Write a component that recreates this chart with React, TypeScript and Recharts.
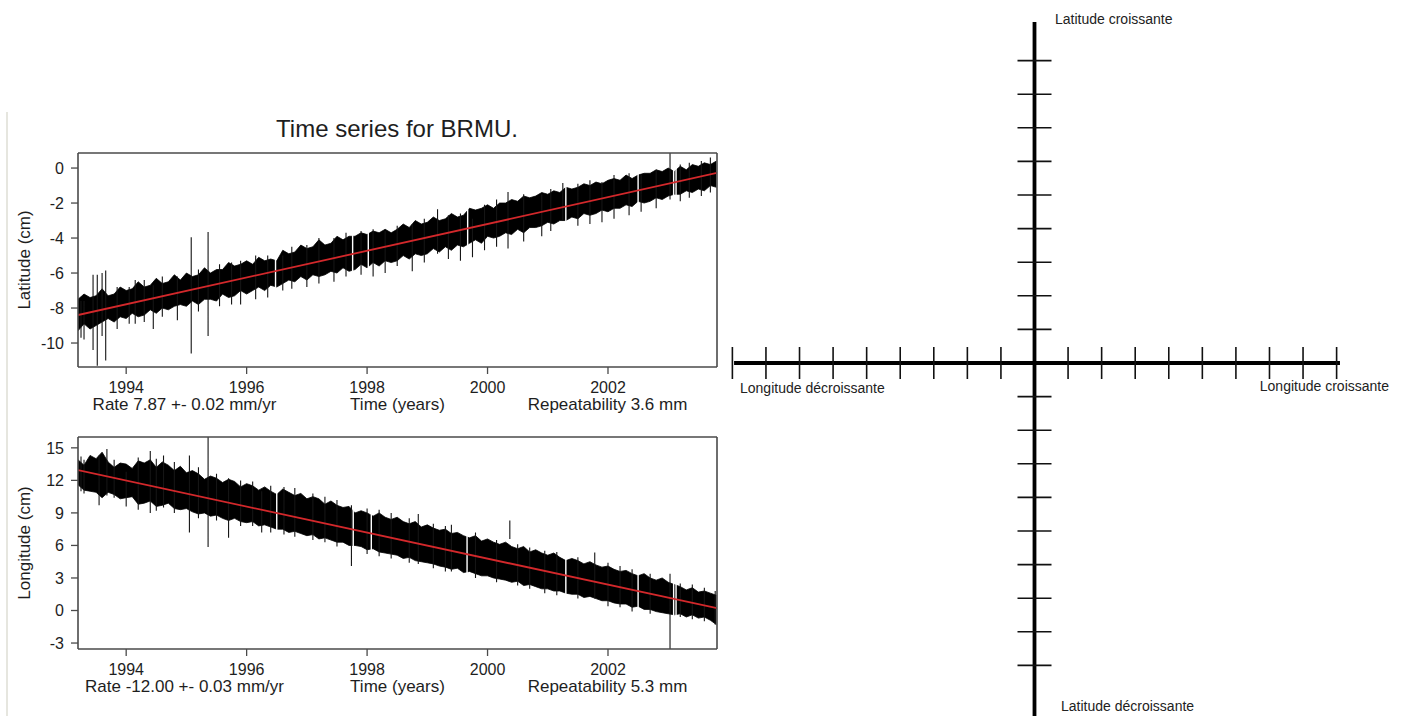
import React from "react";
import { ComposedChart, Area, Line, Scatter, XAxis, YAxis } from "recharts";

const FONT = '"Liberation Sans", Arial, Helvetica, sans-serif';
const INK = "#1e1e1e";
const FRAME = "#4a4a4a";
const TREND = "#d3282b";

// ---- left: BRMU time series ----
const X_DOMAIN = [1993.2, 2003.81];
const yearTicks = [1994, 1996, 1998, 2000, 2002];

// sampling times of the envelope (decimal years)
const years = [
  1993.2, 1993.3, 1993.4, 1993.5, 1993.6, 1993.7, 1993.8, 1993.9,
  1994.0, 1994.1, 1994.2, 1994.3, 1994.4, 1994.5, 1994.6, 1994.7, 1994.8, 1994.9,
  1995.0, 1995.1, 1995.2, 1995.3, 1995.4, 1995.5, 1995.6, 1995.7, 1995.8, 1995.9,
  1996.0, 1996.1, 1996.2, 1996.3, 1996.4, 1996.5, 1996.6, 1996.7, 1996.8, 1996.9,
  1997.0, 1997.1, 1997.2, 1997.3, 1997.4, 1997.5, 1997.6, 1997.7, 1997.8, 1997.9,
  1998.0, 1998.1, 1998.2, 1998.3, 1998.4, 1998.5, 1998.6, 1998.7, 1998.8, 1998.9,
  1999.0, 1999.1, 1999.2, 1999.3, 1999.4, 1999.5, 1999.6, 1999.7, 1999.8, 1999.9,
  2000.0, 2000.1, 2000.2, 2000.3, 2000.4, 2000.5, 2000.6, 2000.7, 2000.8, 2000.9,
  2001.0, 2001.1, 2001.2, 2001.3, 2001.4, 2001.5, 2001.6, 2001.7, 2001.8, 2001.9,
  2002.0, 2002.1, 2002.2, 2002.3, 2002.4, 2002.5, 2002.6, 2002.7, 2002.8, 2002.9,
  2003.0, 2003.1, 2003.2, 2003.3, 2003.4, 2003.5, 2003.6, 2003.7, 2003.8,
];

// latitude (cm): upper / lower edge of the daily scatter
const latUpper = [
  -7.5, -7.2, -7.4, -7.3, -6.9, -7.3, -7.2, -6.8,
  -7.0, -6.9, -6.5, -6.8, -6.7, -6.3, -6.6, -6.5, -6.1, -6.4,
  -6.0, -6.2, -6.1, -5.7, -6.0, -5.8, -5.8, -5.4, -5.6, -5.5,
  -5.3, -5.5, -5.1, -5.3, -5.2, -5.3, -4.7, -4.9, -4.8, -4.4,
  -4.6, -4.5, -4.1, -4.4, -4.3, -3.9, -4.1, -3.9, -3.9, -3.7,
  -3.8, -3.6, -3.7, -3.5, -3.7, -3.5, -3.2, -3.4, -3.0, -3.2,
  -3.1, -2.8, -3.0, -2.9, -2.6, -2.8, -2.7, -2.3, -2.4, -2.3,
  -2.1, -2.3, -2.0, -2.0, -1.8, -1.9, -1.6, -1.7, -1.6, -1.4,
  -1.5, -1.3, -1.4, -1.1, -1.2, -1.1, -0.9, -1.0, -0.8, -0.9,
  -0.7, -0.6, -0.7, -0.4, -0.6, -0.4, -0.3, -0.3, -0.1, -0.2,
  0.0, -0.2, 0.1, -0.1, 0.2, 0.1, 0.3, 0.2, 0.4,
];
const latLower = [
  -9.3, -8.9, -9.2, -9.0, -8.8, -8.6, -8.8, -8.5,
  -8.6, -8.3, -8.5, -8.4, -8.1, -8.3, -8.0, -8.1, -7.9, -7.8,
  -7.9, -7.6, -7.8, -7.5, -7.5, -7.6, -7.2, -7.4, -7.3, -7.0,
  -7.2, -7.0, -6.8, -7.0, -6.7, -6.8, -6.6, -6.4, -6.5, -6.2,
  -6.4, -6.1, -6.2, -6.1, -5.9, -6.0, -5.7, -5.9, -5.8, -5.5,
  -5.7, -5.4, -5.6, -5.3, -5.4, -5.3, -5.0, -5.2, -4.9, -5.0,
  -4.9, -4.6, -4.8, -4.5, -4.7, -4.4, -4.5, -4.3, -4.1, -4.3,
  -3.9, -4.0, -3.9, -3.7, -3.8, -3.5, -3.7, -3.4, -3.4, -3.3,
  -3.1, -3.2, -3.0, -3.0, -2.8, -2.9, -2.6, -2.7, -2.6, -2.4,
  -2.5, -2.3, -2.3, -2.1, -2.2, -1.9, -2.0, -1.9, -1.7, -1.8,
  -1.6, -1.5, -1.5, -1.3, -1.4, -1.2, -1.3, -1.0, -1.1,
];

// longitude (cm)
const lonUpper = [
  13.9, 13.4, 14.3, 14.0, 14.6, 13.7, 13.2, 13.6,
  13.5, 13.1, 13.8, 13.6, 13.9, 13.2, 13.7, 13.4, 12.9, 13.3,
  12.7, 12.9, 12.6, 12.1, 12.4, 12.2, 11.8, 12.1, 11.9, 11.4,
  11.7, 11.5, 11.1, 11.4, 11.0, 10.7, 11.2, 10.9, 10.6, 10.8,
  10.3, 10.5, 10.3, 9.8, 10.1, 9.7, 9.5, 9.6, 9.0, 9.2,
  9.0, 8.7, 9.0, 8.6, 8.4, 8.6, 8.2, 8.0, 8.2, 7.7,
  7.9, 7.6, 7.4, 7.5, 7.1, 7.2, 6.9, 6.7, 6.9, 6.4,
  6.6, 6.3, 6.1, 6.3, 5.9, 5.7, 5.9, 5.4, 5.6, 5.3,
  5.1, 5.3, 4.9, 4.6, 4.8, 4.6, 4.3, 4.5, 4.2, 4.0,
  4.1, 3.8, 3.6, 3.7, 3.4, 3.2, 3.4, 3.0, 2.8, 3.0,
  2.6, 2.4, 2.2, 1.9, 2.1, 1.7, 1.8, 1.6, 1.4,
];
const lonLower = [
  11.6, 11.1, 11.0, 10.9, 10.4, 10.9, 10.7, 10.3,
  10.4, 10.5, 9.8, 9.9, 10.1, 9.6, 9.7, 9.9, 9.4, 9.3,
  9.4, 9.1, 8.9, 9.0, 8.7, 8.8, 8.5, 8.3, 8.5, 8.2,
  8.1, 8.2, 7.8, 7.9, 7.7, 7.5, 7.5, 7.2, 7.3, 7.1,
  6.9, 7.0, 6.6, 6.7, 6.5, 6.3, 6.3, 6.0, 6.0, 5.9,
  5.6, 5.7, 5.4, 5.3, 5.2, 5.1, 4.8, 4.9, 4.6, 4.5,
  4.4, 4.3, 4.1, 4.0, 3.8, 3.9, 3.5, 3.6, 3.4, 3.2,
  3.2, 3.0, 2.9, 2.8, 2.6, 2.7, 2.3, 2.4, 2.2, 2.0,
  2.0, 1.8, 1.8, 1.6, 1.5, 1.5, 1.2, 1.3, 1.1, 0.9,
  0.9, 0.7, 0.6, 0.6, 0.3, 0.4, 0.1, 0.1, -0.1, -0.2,
  -0.3, -0.4, -0.3, -0.6, -0.4, -0.7, -0.6, -0.9, -1.3,
];

// outliers and whiskers sticking out of the band
const latSpikeYears = [
  1993.25, 1993.3, 1993.45, 1993.52, 1993.6, 1993.66, 1993.85, 1994.05, 1994.15, 1994.3,
  1994.45, 1994.6, 1994.85, 1995.08, 1995.2, 1995.36, 1995.55, 1995.75, 1995.9, 1996.15,
  1996.35, 1996.6, 1996.75, 1997.0, 1997.2, 1997.45, 1997.65, 1997.9, 1998.1, 1998.3,
  1998.5, 1998.75, 1998.95, 1999.17, 1999.35, 1999.55, 1999.75, 1999.95, 2000.15, 2000.34,
  2000.6, 2000.9, 2001.05, 2001.25, 2001.5, 2001.7, 2001.9, 2002.1, 2002.35, 2002.55,
  2002.8, 2003.03, 2003.2, 2003.35, 2003.55, 2003.7,
];
const latSpikeLow = [
  -9.7, -9.8, -10.4, -11.3, -9.6, -11.0, -9.2, -8.9, -8.9, -8.8,
  -9.2, -8.5, -8.7, -10.6, -8.2, -9.6, -7.9, -7.8, -7.8, -7.5,
  -7.4, -7.0, -6.9, -6.8, -6.6, -6.5, -6.2, -6.1, -6.2, -6.0,
  -5.6, -5.9, -5.4, -4.9, -5.2, -5.3, -5.1, -4.7, -4.5, -4.6,
  -4.2, -3.9, -3.6, -3.0, -3.3, -3.2, -3.1, -2.9, -2.7, -2.5,
  -2.3, -1.8, -1.9, -1.7, -1.6, -1.4,
];
const latSpikeHigh = [
  -7.6, -7.6, -6.1, -6.1, -6.0, -5.85, -6.8, -6.8, -6.4, -6.4,
  -6.7, -6.2, -6.2, -3.95, -5.8, -3.65, -5.5, -5.4, -5.3, -5.0,
  -5.0, -5.0, -4.5, -4.4, -4.0, -4.0, -3.7, -3.6, -3.5, -3.6,
  -3.3, -3.2, -2.9, -2.35, -2.7, -2.6, -2.9, -2.1, -1.8, -1.37,
  -1.5, -1.5, -1.2, -0.85, -0.9, -0.7, -0.8, -0.4, -0.3, -0.4,
  -0.1, 0.86, 0.2, 0.3, 0.4, 0.6,
];

const lonSpikeYears = [
  1993.25, 1993.3, 1993.55, 1993.68, 1993.8, 1994.0, 1994.2, 1994.4, 1994.5, 1994.62,
  1994.8, 1995.05, 1995.2, 1995.36, 1995.5, 1995.7, 1995.9, 1996.1, 1996.25, 1996.4,
  1996.62, 1996.8, 1997.1, 1997.3, 1997.5, 1997.74, 1998.0, 1998.2, 1998.4, 1998.7,
  1998.85, 1999.1, 1999.3, 1999.4, 1999.8, 2000.15, 2000.37, 2000.5, 2000.7, 2000.95,
  2001.15, 2001.5, 2001.78, 2002.0, 2002.2, 2002.4, 2002.7, 2003.03, 2003.2, 2003.4,
  2003.6, 2003.78,
];
const lonSpikeLow = [
  11.0, 10.8, 9.7, 10.6, 10.4, 9.6, 9.3, 9.0, 9.2, 9.5,
  9.0, 7.2, 8.5, 5.85, 8.3, 6.7, 7.8, 7.8, 7.2, 7.2,
  7.0, 6.8, 6.5, 6.3, 5.9, 4.1, 5.2, 5.0, 4.8, 4.4,
  4.3, 3.9, 3.6, 3.6, 3.0, 2.6, 6.6, 2.3, 2.0, 1.6,
  1.4, 1.1, 1.1, 0.4, 0.3, -0.1, -0.3, -3.55, -0.6, -0.8,
  -1.0, -1.3,
];
const lonSpikeHigh = [
  14.2, 13.9, 14.3, 14.9, 13.9, 12.8, 14.1, 14.7, 14.0, 14.3,
  13.7, 14.3, 13.2, 16.0, 12.6, 12.2, 12.0, 11.9, 11.0, 11.5,
  11.4, 11.3, 10.8, 10.5, 10.2, 9.7, 9.4, 9.3, 9.0, 8.5,
  8.9, 8.0, 7.8, 7.9, 7.2, 6.5, 8.3, 6.1, 5.8, 5.5,
  5.4, 4.9, 5.35, 4.4, 4.1, 3.8, 3.4, 3.4, 2.5, 2.4,
  2.1, 1.8,
];

// data holes (white stripes)
const latGaps = [1996.48, 1997.76, 1998.02, 1999.67, 2001.3, 2002.5, 2003.09, 2003.13];
const lonGaps = [1996.5, 1997.77, 1998.07, 1999.66, 2001.3, 2002.5, 2003.09, 2003.13];

// fitted linear trend
const trendYears = [1993.2, 2003.81];
const latTrend = [-8.4, -0.28];
const lonTrend = [12.95, 0.21];

const LAT_DOMAIN = [-11.37, 0.86];
const LON_DOMAIN = [-3.55, 16.0];
const latTicks = [-10, -8, -6, -4, -2, 0];
const lonTicks = [-3, 0, 3, 6, 9, 12, 15];

// ---- right: orientation sketch ----
const lonMarks = [-9, -8, -7, -6, -5, -4, -3, -2, -1, 1, 2, 3, 4, 5, 6, 7, 8, 9];
const latMarks = [9, 8, 7, 6, 5, 4, 3, 2, 1, -1, -2, -3, -4, -5, -6, -7, -8, -9];
const lonAxisEnds = [-8.95, 9.1];
const latAxisEnds = [10.15, -11];

const axisLineStyle = { stroke: FRAME, strokeWidth: 1.6 };
const tickLineStyle = { stroke: FRAME, strokeWidth: 1.3 };
const tickText = { fill: INK, fontSize: 16, fontFamily: FONT };

const sideTitle = (text: string) => (props: any) => {
  const vb = props.viewBox || { x: 0, y: 13, width: 78, height: 214 };
  const cx = vb.x + 24;
  const cy = vb.y + vb.height / 2;
  return (
    <text x={cx} y={cy} transform={`rotate(-90 ${cx} ${cy})`} textAnchor="middle"
      dominantBaseline="central" fontSize={17} fontFamily={FONT} fill={INK}>
      {text}
    </text>
  );
};

const footer = (rate: string, rep: string) => (props: any) => {
  const vb = props.viewBox || { x: 78, y: 367, width: 639, height: 54 };
  const y = vb.y + 43;
  return (
    <g fontFamily={FONT} fontSize={17} fill={INK}>
      <text x={vb.x + 106.5} y={y} textAnchor="middle">{rate}</text>
      <text x={vb.x + vb.width / 2} y={y} textAnchor="middle">Time (years)</text>
      <text x={vb.x + 529.5} y={y} textAnchor="middle">{rep}</text>
    </g>
  );
};

function SeriesPanel(props: any) {
  const { top, plotHeight, upper, lower, spikeYears, spikeLow, spikeHigh, gaps, trend, domain, ticks, yTitle, rate, rep } = props;
  const band = years.map((t, i) => ({ t, range: [lower[i], upper[i]] }));
  const spikes = spikeYears.flatMap((t: number, i: number) => [
    { t, v: spikeLow[i] }, { t, v: spikeHigh[i] }, { t, v: null },
  ]);
  const holes = gaps.flatMap((t: number) => [{ t, v: domain[0] }, { t, v: domain[1] }, { t, v: null }]);
  const fit = trendYears.map((t, i) => ({ t, v: trend[i] }));

  return (
    <div style={{ position: "absolute", left: 0, top }}>
      <ComposedChart width={740} height={13 + plotHeight + 54} data={band} margin={{ top: 7, right: 13, bottom: 0, left: 0 }}>
        <XAxis dataKey="t" type="number" domain={X_DOMAIN} ticks={yearTicks} interval={0} allowDataOverflow
          height={54} tickSize={7} tickMargin={8} axisLine={axisLineStyle} tickLine={tickLineStyle}
          tick={tickText} label={{ content: footer(rate, rep) }} />
        <XAxis xAxisId="top" orientation="top" dataKey="t" type="number" domain={X_DOMAIN} ticks={yearTicks}
          interval={0} allowDataOverflow height={6} tickSize={7} tick={false}
          axisLine={axisLineStyle} tickLine={tickLineStyle} />
        <YAxis type="number" domain={domain} ticks={ticks} interval={0} allowDataOverflow width={78}
          tickSize={7} tickMargin={7} axisLine={axisLineStyle} tickLine={tickLineStyle} tick={tickText}
          label={{ content: sideTitle(yTitle) }} />
        <YAxis yAxisId="right" orientation="right" type="number" domain={domain} ticks={ticks} interval={0}
          allowDataOverflow width={10} tickSize={6} tick={false} axisLine={axisLineStyle} tickLine={tickLineStyle} />
        <Area dataKey="range" type="linear" stroke="#000" strokeWidth={0.8} fill="#000" fillOpacity={1}
          isAnimationActive={false} dot={false} activeDot={false} />
        <Line data={holes} dataKey="v" type="linear" stroke="#fff" strokeWidth={1.4} dot={false}
          activeDot={false} isAnimationActive={false} />
        <Line data={spikes} dataKey="v" type="linear" stroke="#151515" strokeWidth={1.1} dot={false}
          activeDot={false} isAnimationActive={false} />
        <Line data={fit} dataKey="v" type="linear" stroke={TREND} strokeWidth={1.8} dot={false}
          activeDot={false} isAnimationActive={false} />
      </ComposedChart>
    </div>
  );
}

function CutPanel() {
  // the next panel of the original figure, only its top tick marks remain in view
  return (
    <div style={{ position: "absolute", left: 0, top: 706 }}>
      <ComposedChart width={740} height={120} margin={{ top: 7, right: 13, bottom: 0, left: 0 }}>
        <XAxis xAxisId="top" orientation="top" dataKey="t" type="number" domain={X_DOMAIN} ticks={yearTicks}
          interval={0} height={6} tickSize={7} tick={false} axisLine={axisLineStyle} tickLine={tickLineStyle} />
        <YAxis type="number" domain={[0, 1]} width={78} tick={false} tickLine={false} axisLine={axisLineStyle} />
        <Line xAxisId="top" data={[]} dataKey="v" dot={false} isAnimationActive={false} />
      </ComposedChart>
    </div>
  );
}

const vMark = (p: any) => (
  <line x1={p.cx} y1={p.cy - 16} x2={p.cx} y2={p.cy + 16} stroke="#111" strokeWidth={1.6} />
);
const hMark = (p: any) => (
  <line x1={p.cx - 17} y1={p.cy} x2={p.cx + 17} y2={p.cy} stroke="#111" strokeWidth={1.6} />
);

function CrossSketch() {
  const lonAxis = lonAxisEnds.map((x) => ({ x, y: 0 }));
  const latAxis = latAxisEnds.map((y) => ({ x: 0, y }));
  const lonPts = lonMarks.map((x) => ({ x, y: 0 }));
  const latPts = latMarks.map((y) => ({ x: 0, y }));
  return (
    <div style={{ position: "absolute", left: 700, top: 0 }}>
      <ComposedChart width={705} height={740} margin={{ top: 10.2, right: 51.6, bottom: 7.4, left: 15.6 }}>
        <XAxis type="number" dataKey="x" domain={[-9.5, 9.5]} hide allowDataOverflow />
        <YAxis type="number" dataKey="y" domain={[-11, 10.5]} hide allowDataOverflow />
        <Line data={lonAxis} dataKey="y" stroke="#000" strokeWidth={3.8} dot={false} activeDot={false} isAnimationActive={false} />
        <Line data={latAxis} dataKey="y" stroke="#000" strokeWidth={3.8} dot={false} activeDot={false} isAnimationActive={false} />
        <Scatter data={lonPts} shape={vMark} isAnimationActive={false} />
        <Scatter data={latPts} shape={hMark} isAnimationActive={false} />
      </ComposedChart>
    </div>
  );
}

export default function App() {
  return (
    <div style={{ position: "fixed", left: 0, top: 0, width: 1405, height: 716, overflow: "hidden", background: "#fff" }}>
      <div style={{ position: "absolute", left: 6, top: 112, width: 2, height: 604, background: "#e6e6df" }} />
      <SeriesPanel top={140} plotHeight={214} upper={latUpper} lower={latLower}
        spikeYears={latSpikeYears} spikeLow={latSpikeLow} spikeHigh={latSpikeHigh} gaps={latGaps}
        trend={latTrend} domain={LAT_DOMAIN} ticks={latTicks} yTitle="Latitude (cm)"
        rate="Rate 7.87 +- 0.02 mm/yr" rep="Repeatability 3.6 mm" />
      <SeriesPanel top={424} plotHeight={212} upper={lonUpper} lower={lonLower}
        spikeYears={lonSpikeYears} spikeLow={lonSpikeLow} spikeHigh={lonSpikeHigh} gaps={lonGaps}
        trend={lonTrend} domain={LON_DOMAIN} ticks={lonTicks} yTitle="Longitude (cm)"
        rate="Rate -12.00 +- 0.03 mm/yr" rep="Repeatability 5.3 mm" />
      <CutPanel />
      <CrossSketch />
      <svg width={1405} height={716} style={{ position: "absolute", left: 0, top: 0, pointerEvents: "none" }}>
        <text x={397} y={137} textAnchor="middle" fontSize={24} fontFamily={FONT} fill={INK}>
          Time series for BRMU.
        </text>
        <g fontSize={14} fontFamily={FONT} fill="#222">
          <text x={1055} y={24}>Latitude croissante</text>
          <text x={740} y={393}>Longitude décroissante</text>
          <text x={1389} y={391} textAnchor="end">Longitude croissante</text>
          <text x={1061} y={711}>Latitude décroissante</text>
        </g>
      </svg>
    </div>
  );
}
